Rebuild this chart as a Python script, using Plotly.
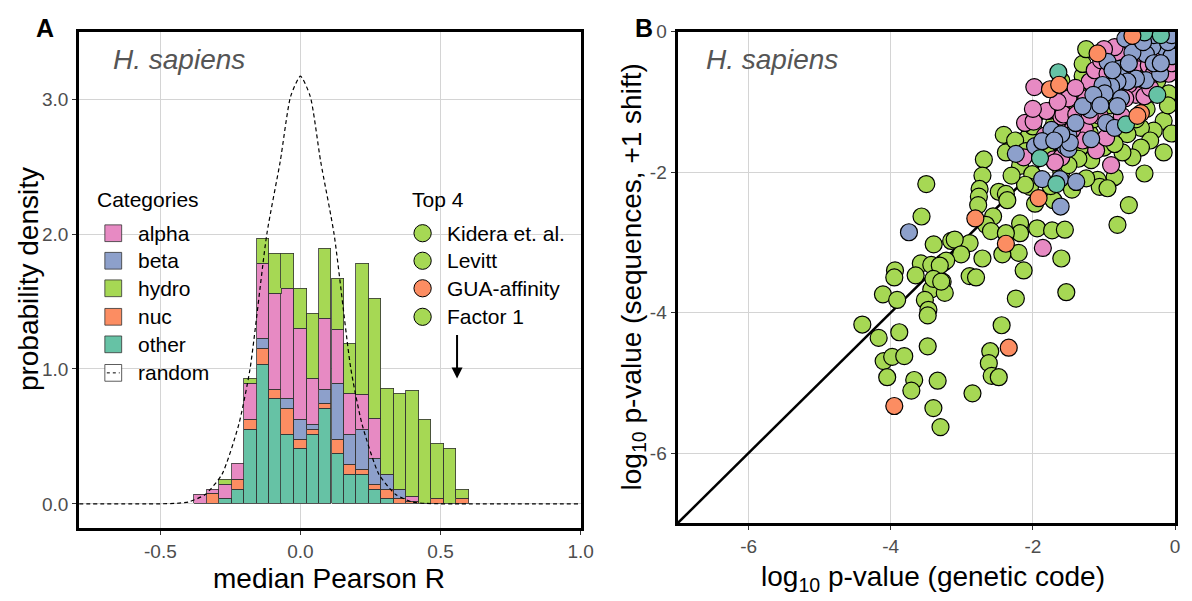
import plotly.graph_objects as go

# ---------------- Panel A data: stacked histogram ----------------
bin_centers = [-0.356, -0.311, -0.267, -0.222, -0.178, -0.134, -0.089, -0.045, 0.0, 0.045, 0.089,
               0.134, 0.178, 0.222, 0.267, 0.311, 0.356, 0.401, 0.445, 0.490, 0.534, 0.579]
other_h = [0, 0, 0.036, 0.109, 0.552, 1.036, 0.777, 0.516, 0.407, 0.516, 0.705,
           0.370, 0.220, 0.220, 0.109, 0.036, 0, 0, 0, 0, 0, 0]
nuc_h = [0, 0.073, 0, 0.073, 0.073, 0.114, 0.073, 0.189, 0.073, 0.036, 0.036,
         0.109, 0.073, 0.036, 0.036, 0.073, 0.036, 0.018, 0, 0.036, 0, 0.036]
beta_h = [0, 0, 0, 0, 0, 0.073, 0, 0.073, 0.145, 0.039, 0.109,
          0.412, 0.223, 0.295, 0.189, 0.111, 0.073, 0, 0, 0, 0, 0]
alpha_h = [0.070, 0.036, 0.109, 0.114, 0.266, 0.557, 0.707, 0.816, 0.671, 0.334, 0.521,
           0.404, 0.298, 0.261, 0.295, 0, 0, 0.036, 0, 0, 0, 0]
hydro_h = [0, 0, 0.036, 0, 0.034, 0.184, 0.295, 0.259, 0.298, 0.482, 0.521,
           0.378, 0.373, 0.966, 0.891, 0.634, 0.709, 0.782, 0.625, 0.412, 0.407, 0.073]

# random-code density curve
random_x = [-0.79, -0.55, -0.50, -0.45, -0.40, -0.34, -0.28, -0.22, -0.18, -0.12, -0.072, -0.035, 0.0,
            0.035, 0.072, 0.12, 0.18, 0.22, 0.28, 0.34, 0.40, 0.45, 0.50, 0.55, 1.0]
random_y = [0, 0, 0.001, 0.004, 0.014, 0.07, 0.22, 0.59, 1.0, 2.0, 2.54, 3.02, 3.17,
            3.02, 2.54, 2.0, 1.0, 0.59, 0.22, 0.07, 0.014, 0.004, 0.001, 0, 0]

# ---------------- Panel B data: scatter ----------------
hydro_pts = [(-3.567, -2.632), (-3.396, -3.028), (-3.15, -2.98), (-3.577, -3.30), (-3.43, -3.32), (-3.26, -3.29),
             (-3.94, -3.40), (-3.95, -3.50), (-3.65, -3.47), (-3.36, -3.50), (-3.27, -3.56), (-3.43, -3.67),
             (-3.24, -3.72), (-4.11, -3.74), (-3.91, -3.82), (-3.52, -3.82), (-3.47, -3.96), (-3.48, -4.04),
             (-4.40, -4.17), (-4.17, -4.36), (-3.88, -4.28), (-3.48, -4.48), (-4.10, -4.69), (-3.98, -4.63),
             (-3.81, -4.62), (-4.05, -4.92), (-3.67, -4.96), (-3.71, -5.11), (-3.34, -4.97), (-3.40, -5.36),
             (-3.30, -5.63),
             (-1.97, -1.19), (-2.41, -1.47), (-2.06, -1.49), (-2.31, -1.68), (-2.38, -1.72), (-2.18, -1.91),
             (-2.01, -2.03), (-2.69, -1.82), (-2.71, -2.05), (-2.75, -2.24), (-2.76, -2.35), (-2.48, -2.28),
             (-2.38, -2.31), (-2.36, -2.40), (-2.04, -2.21), (-1.97, -2.45), (-1.71, -2.40), (-2.77, -2.47),
             (-2.56, -2.63), (-2.66, -2.75), (-2.59, -2.84), (-3.50, -2.17), (-2.18, -2.73), (-2.18, -2.87),
             (-2.38, -2.87), (-1.94, -2.80), (-1.73, -2.83), (-1.55, -2.82), (-2.20, -3.15), (-2.43, -3.17),
             (-1.60, -3.23), (-2.13, -3.40), (-2.71, -3.23), (-2.89, -3.01), (-3.10, -2.96), (-3.01, -3.17),
             (-3.22, -3.26), (-3.31, -3.33), (-2.89, -3.48), (-2.80, -3.50), (-3.40, -3.52), (-3.29, -3.56),
             (-2.24, -3.80), (-1.53, -3.71),
             (-1.30, -0.63), (-1.46, -0.83), (-1.36, -0.88), (-0.09, -0.88), (-0.16, -1.27), (-0.30, -1.41),
             (-0.48, -1.37), (-0.67, -1.46), (-0.16, -1.72), (-0.35, -1.55), (-0.48, -1.65), (-0.60, -1.79),
             (-0.74, -1.72), (-0.43, -2.02), (-0.85, -2.07), (-1.09, -2.11), (-1.06, -2.21), (-0.95, -2.23),
             (-1.25, -2.09), (-2.11, -2.18), (-1.18, -1.83), (-1.34, -1.65), (-1.36, -1.81), (-1.30, -0.46),
             (-0.65, -2.47), (-0.81, -2.75),
             (-2.60, -4.55), (-2.62, -4.72), (-2.58, -4.90), (-2.48, -4.92), (-2.44, -4.18), (-2.85, -5.15),
             (-2.00, -1.35), (-1.85, -1.60), (-1.70, -1.30), (-2.25, -1.55), (-1.40, -1.05), (-1.00, -0.55),
             (-0.55, -0.65), (-0.20, -0.40), (-1.60, -2.00), (-1.20, -1.45), (-0.90, -1.05), (-1.50, -1.90),
             (-1.75, -2.20), (-2.10, -1.70), (-1.55, -1.10), (-1.15, -1.25), (-0.75, -0.85), (-0.40, -1.10),
             (-0.10, -1.05), (-0.25, -0.70), (-1.80, -1.75), (-2.30, -2.05), (-1.45, -2.25), (-1.00, -1.65),
             (-0.55, -1.25), (-0.05, -1.45), (-1.25, -0.25), (-1.60, -0.70), (-0.85, -1.60)]
alpha_pts = [(-1.98, -0.79), (-1.55, -0.976), (-1.78, -1.13), (-2.11, -1.30), (-1.99, -1.28), (-1.60, -1.21),
             (-2.13, -1.79), (-1.71, -1.82), (-1.60, -1.79), (-1.86, -3.08),
             (-0.27, -0.13), (-0.71, -0.29), (-0.81, -0.29), (-0.58, -0.49), (-0.37, -0.48), (-0.09, -0.60),
             (-1.09, -0.67), (-1.20, -0.71), (-1.50, -0.95), (-0.55, -0.90), (-0.43, -0.92), (-1.06, -1.20),
             (-0.90, -1.90), (-1.11, -1.69), (-1.83, -1.48), (-1.81, -1.13), (-1.57, -1.18), (-1.39, -1.18),
             (-1.27, -1.39), (-1.69, -1.86), (-0.97, -1.51), (-1.13, -0.95), (-1.13, -0.55), (-0.85, -0.22),
             (-1.04, -0.41), (-0.40, -0.05), (-0.15, -0.30), (-0.65, -0.75), (-0.95, -0.80), (-1.30, -1.55),
             (-0.75, -1.20), (-0.95, -0.60), (-0.50, -0.30), (-0.20, -0.20), (-1.25, -0.95), (-1.45, -1.40),
             (-0.70, -0.95), (-0.35, -0.80), (-1.00, -0.25), (-0.60, -0.10), (-1.65, -1.00), (-2.00, -1.10),
             (-1.20, -1.20), (-0.30, -0.60), (-0.05, -0.45), (-1.40, -0.80)]
beta_pts = [(-3.744, -2.856), (-1.74, -1.40), (-2.24, -1.74), (-1.97, -1.63), (-1.87, -1.56), (-1.55, -1.63),
            (-1.87, -2.10), (-1.62, -2.10), (-1.61, -2.49),
            (-0.505, -0.154), (-0.09, -0.08), (-0.16, -0.22), (-0.32, -0.22), (-0.41, -0.32), (-0.95, -0.43),
            (-0.78, -0.53), (-0.41, -0.69), (-0.55, -0.67), (-0.67, -0.71), (-0.81, -0.71), (-0.90, -0.78),
            (-1.02, -0.76), (-0.99, -0.88), (-0.76, -0.95), (-1.20, -1.11), (-1.30, -1.06), (-0.81, -1.06),
            (-0.97, -1.30), (-0.85, -1.37), (-1.39, -2.14), (-1.18, -1.53), (-1.50, -1.67), (-1.50, -1.48),
            (-1.48, -1.58), (-1.60, -1.46), (-0.21, -0.60), (-0.05, -0.35), (-0.30, -0.05), (-0.70, -0.10),
            (-0.60, -0.30), (-0.30, -0.45), (-0.10, -0.15), (-1.15, -0.90), (-1.40, -1.30), (-1.70, -1.55),
            (-1.05, -1.05), (-0.65, -0.45), (-0.45, -0.15), (-0.05, -0.05), (-0.20, -0.45), (-0.88, -0.55)]
other_pts = [(-1.642, -0.578), (-1.90, -1.80), (-1.67, -2.17), (-0.69, -1.32), (-0.25, -0.90), (-0.43, -0.01),
             (-0.20, -0.05)]
nuc_pts = [(-3.95, -5.33), (-2.81, -2.66), (-2.38, -3.02), (-1.92, -2.37), (-1.76, -0.82), (-1.63, -0.756),
           (-1.09, -0.31), (-0.60, -0.06), (-0.48, -1.16), (-0.53, -1.20), (-2.34, -4.50)]

diag_x = [-7, 0]
diag_y = [-7, 0]

categories = ["alpha", "beta", "hydro", "nuc", "other"]
colors = {"alpha": "#e78ac3", "beta": "#8da0cb", "hydro": "#a6d854", "nuc": "#fc8d62", "other": "#66c2a5"}
top4_names = ["Kidera et. al.", "Levitt", "GUA-affinity", "Factor 1"]
top4_cats = ["hydro", "hydro", "nuc", "hydro"]

FONT = "Liberation Sans, Arial, Helvetica, sans-serif"
W, H = 1192, 601

fig = go.Figure()

# stacked bars (bottom to top: other, nuc, beta, alpha, hydro)
for name, vals in [("other", other_h), ("nuc", nuc_h), ("beta", beta_h), ("alpha", alpha_h), ("hydro", hydro_h)]:
    fig.add_trace(go.Bar(x=bin_centers, y=[v if v > 0 else None for v in vals], width=0.0445,
                         marker=dict(color=colors[name], line=dict(color="#333333", width=0.8)),
                         xaxis="x", yaxis="y", showlegend=False, name=name))

fig.add_trace(go.Scatter(x=random_x, y=random_y, mode="lines",
                         line=dict(color="black", width=1.2, dash="4px,3px", shape="spline", smoothing=0.6),
                         xaxis="x", yaxis="y", showlegend=False, name="random"))

# panel B
fig.add_trace(go.Scatter(x=diag_x, y=diag_y, mode="lines", line=dict(color="black", width=2.5),
                         xaxis="x2", yaxis="y2", showlegend=False))
for name, pts in [("hydro", hydro_pts), ("alpha", alpha_pts), ("beta", beta_pts), ("other", other_pts), ("nuc", nuc_pts)]:
    fig.add_trace(go.Scatter(x=[p[0] for p in pts], y=[p[1] for p in pts], mode="markers",
                             marker=dict(size=17, color=colors[name], line=dict(color="black", width=1.2)),
                             xaxis="x2", yaxis="y2", showlegend=False, name=name))

def px(x):
    return x / W

def py(y):
    return 1 - y / H

axis_common = dict(showgrid=True, gridcolor="#d4d4d4", gridwidth=1, zeroline=False,
                   showline=True, linecolor="black", linewidth=3, mirror=True,
                   ticks="outside", ticklen=4, tickcolor="#333333",
                   tickfont=dict(family=FONT, size=19, color="#4d4d4d"))

fig.update_layout(
    width=W, height=H, margin=dict(l=0, r=0, t=0, b=0),
    paper_bgcolor="white", plot_bgcolor="white", barmode="stack", bargap=0,
    xaxis=dict(domain=[px(80), px(587)], range=[-0.79, 1.0], anchor="y",
               tickvals=[-0.5, 0, 0.5, 1.0], ticktext=["-0.5", "0.0", "0.5", "1.0"], **axis_common),
    yaxis=dict(domain=[py(527), py(22)], range=[-0.18, 3.5], anchor="x",
               tickvals=[0, 1, 2, 3], ticktext=["0.0", "1.0", "2.0", "3.0"], **axis_common),
    xaxis2=dict(domain=[px(685), px(1188)], range=[-7, 0], anchor="y2",
                tickvals=[-6, -4, -2, 0], ticktext=["-6", "-4", "-2", "0"], **axis_common),
    yaxis2=dict(domain=[py(522), py(22)], range=[-7, 0], anchor="x2",
                tickvals=[-6, -4, -2, 0], ticktext=["-6", "-4", "-2", "0"], **axis_common),
)

ann = []
def text(x, y, s, size=17, color="black", xanchor="left", angle=0):
    ann.append(dict(x=px(x), y=py(y), xref="paper", yref="paper", text=s, showarrow=False,
                    xanchor=xanchor, yanchor="middle", textangle=angle,
                    font=dict(family=FONT, size=size, color=color)))

text(45, 18, "<b>A</b>", size=25, xanchor="center")
text(651, 18, "<b>B</b>", size=25, xanchor="center")
text(112, 50, "<i>H. sapiens</i>", size=28, color="#555555")
text(712, 50, "<i>H. sapiens</i>", size=28, color="#555555")
text(29, 274, "probability density", size=28, xanchor="center", angle=-90)
text(333, 578, "median Pearson R", size=28, xanchor="center")
text(640, 272, "log<sub>10</sub> p-value (sequences, +1 shift)", size=28, xanchor="center", angle=-90)
text(943, 578, "log<sub>10</sub> p-value (genetic code)", size=28, xanchor="center")

# Categories legend
LEG = 21
text(96, 193, "Categories", size=LEG)
leg_y = [227, 255, 283, 312, 340, 369]
shapes = []
for i, cat in enumerate(categories):
    y = leg_y[i]
    shapes.append(dict(type="rect", xref="paper", yref="paper", x0=px(106), x1=px(123), y0=py(y + 8.5), y1=py(y - 8.5),
                       fillcolor=colors[cat], line=dict(color="#333333", width=0.8)))
    text(137, y, cat, size=LEG)
y = leg_y[5]
shapes.append(dict(type="rect", xref="paper", yref="paper", x0=px(106), x1=px(123), y0=py(y + 8.5), y1=py(y - 8.5),
                   fillcolor="white", line=dict(color="#333333", width=0.8)))
shapes.append(dict(type="line", xref="paper", yref="paper", x0=px(108), x1=px(121), y0=py(y), y1=py(y),
                   line=dict(color="black", width=1, dash="dot")))
text(137, y, "random", size=LEG)

# Top 4 legend
text(415, 193, "Top 4", size=LEG)
for i, (nm, cat) in enumerate(zip(top4_names, top4_cats)):
    y = leg_y[i]
    shapes.append(dict(type="circle", xref="paper", yref="paper", x0=px(418.5), x1=px(436), y0=py(y + 8.75), y1=py(y - 8.75),
                       fillcolor=colors[cat], line=dict(color="black", width=1)))
    text(450, y, nm, size=LEG)

# arrow
ann.append(dict(x=0.559, y=0.93, xref="x", yref="y", ax=0, ay=-45, axref="pixel", ayref="pixel",
                text="", showarrow=True, arrowhead=2, arrowsize=1.1, arrowwidth=2, arrowcolor="black"))

fig.update_layout(annotations=ann, shapes=shapes)
fig.write_html("out.html")
